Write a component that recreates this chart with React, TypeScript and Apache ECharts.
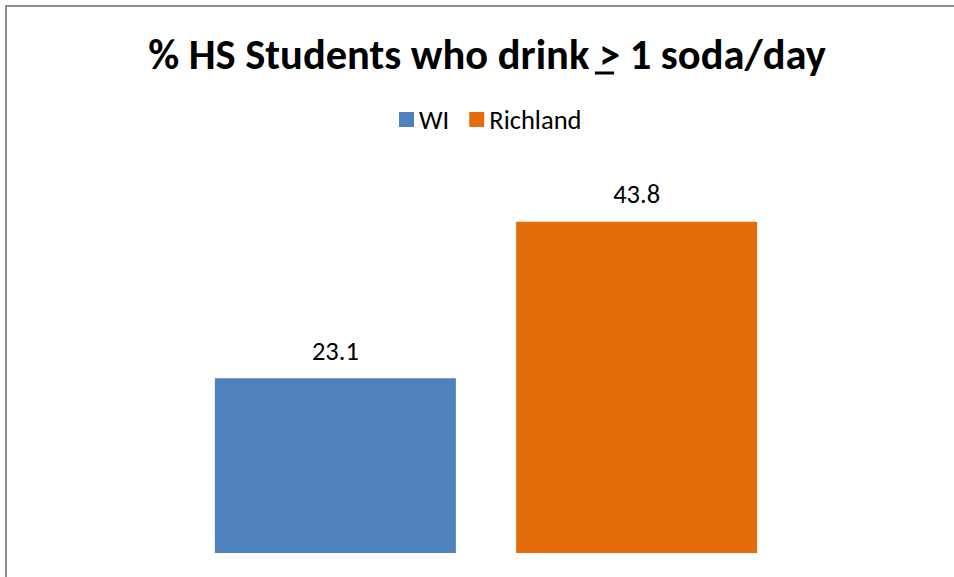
import React, { useEffect, useRef } from "react";
import * as echarts from "echarts";

const categories = ["% HS Students who drink > 1 soda/day"];
const seriesNames = ["WI", "Richland"];
const wiValues = [23.1];
const richlandValues = [43.8];
const colors = ["#4F81BD", "#E46C0A"];

const titlePrefix = "% HS Students who drink ";
const titleSymbol = ">";
const titleSuffix = " 1 soda/day";

const FONT = "Carlito, Calibri, 'Noto Sans', 'Open Sans', sans-serif";
const TITLE_SIZE = 42.5;
const LABEL_SIZE = 26.5;

function measure(text: string, font: string): number {
  const c = document.createElement("canvas");
  const ctx = c.getContext("2d");
  if (!ctx) return text.length * 10;
  ctx.font = font;
  return ctx.measureText(text).width;
}

export default function App() {
  const ref = useRef<HTMLDivElement>(null);
  useEffect(() => {
    if (!ref.current) return;
    const chart = echarts.init(ref.current, undefined, { renderer: "svg" });
    const titleText = titlePrefix + titleSymbol + titleSuffix;
    const font = `bold ${TITLE_SIZE}px ${FONT}`;
    const total = measure(titleText, font);
    const pre = measure(titlePrefix, font);
    const sym = measure(titleSymbol, font);
    const cx = 482;
    const startX = cx - total / 2;
    const ulX1 = startX + pre;
    const ulX2 = ulX1 + sym;
    chart.setOption({
      animation: false,
      backgroundColor: "#ffffff",
      textStyle: { fontFamily: FONT },
      title: {
        text: titleText,
        left: cx,
        top: 28,
        textAlign: "center",
        textStyle: { fontSize: TITLE_SIZE, fontWeight: "bold", color: "#000", fontFamily: FONT },
      },
      legend: {
        data: seriesNames,
        left: 394,
        top: 101,
        itemWidth: 15,
        itemHeight: 15,
        itemGap: 20,
        icon: "rect",
        textStyle: { fontSize: LABEL_SIZE, color: "#000", fontFamily: FONT },
      },
      grid: { left: 100, right: 82, top: 175, bottom: 24 },
      xAxis: {
        type: "category",
        data: categories,
        show: false,
      },
      yAxis: {
        type: "value",
        min: 0,
        max: 50,
        show: false,
      },
      series: [
        {
          name: seriesNames[0],
          type: "bar",
          data: wiValues,
          barWidth: 241,
          barGap: "25%",
          itemStyle: { color: colors[0] },
          label: { show: true, position: "top", distance: 14, fontSize: LABEL_SIZE, color: "#000", fontFamily: FONT },
        },
        {
          name: seriesNames[1],
          type: "bar",
          data: richlandValues,
          barWidth: 241,
          itemStyle: { color: colors[1] },
          label: { show: true, position: "top", distance: 14, fontSize: LABEL_SIZE, color: "#000", fontFamily: FONT },
        },
      ],
      graphic: [
        {
          type: "polyline",
          silent: true,
          shape: { points: [[6, 1000], [6, 6], [1000, 6]] },
          style: { stroke: "#8c8c8c", lineWidth: 2, fill: "none" },
        },
        {
          type: "line",
          silent: true,
          shape: { x1: ulX1 + 1, y1: 73, x2: ulX2 - 1, y2: 73 },
          style: { stroke: "#000", lineWidth: 3 },
        },
      ],
    });
    return () => chart.dispose();
  }, []);
  return <div ref={ref} style={{ position: "fixed", left: 0, top: 0, width: 954, height: 577 }} />;
}
